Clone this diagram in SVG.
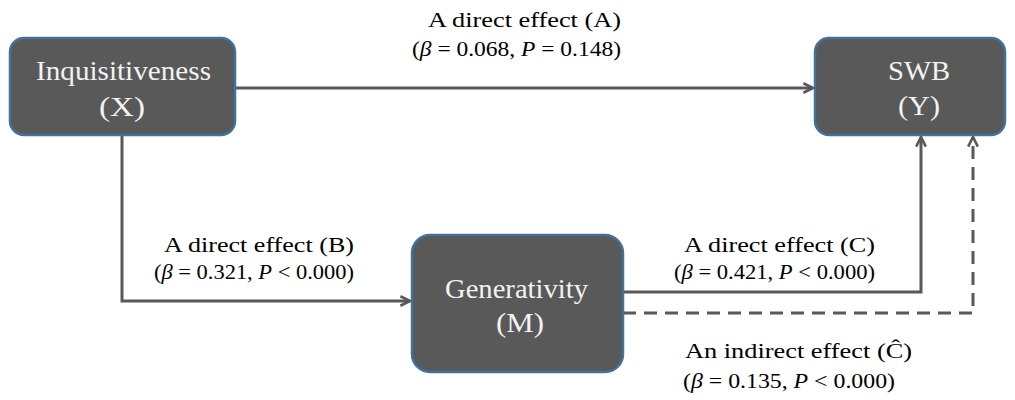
<svg xmlns="http://www.w3.org/2000/svg" width="1015" height="400" viewBox="0 0 1015 400">
<style>
.box{fill:#595959;stroke:#41719c;stroke-width:2.5}
text{font-family:'Liberation Serif','Times New Roman',Times,serif}
.nt{font-size:27px;fill:#f2f2f2}
.lb{font-size:21px;fill:#000}
.ln{fill:none;stroke:#595959;stroke-width:3}
.dash{stroke-dasharray:13 8}
</style>
<defs>
<marker id="arr" viewBox="0 0 10 10" refX="9" refY="5" markerWidth="4" markerHeight="4" orient="auto" markerUnits="strokeWidth">
<path d="M1,1 L9,5 L1,9" fill="none" stroke="#595959" stroke-width="2.2"/>
</marker>
</defs>
<g id="connectors">
<path class="ln" d="M235,88 H813" marker-end="url(#arr)"/>
<path class="ln" d="M122,135 V301 H410" marker-end="url(#arr)"/>
<path class="ln" d="M623,292 H921 V137" marker-end="url(#arr)"/>
<path class="ln dash" d="M623,313 H973 V137" marker-end="url(#arr)"/>
</g>
<g id="node-x">
<rect class="box" x="10" y="38" width="225" height="97" rx="14"/>
<text class="nt" x="36" y="80" textLength="175" lengthAdjust="spacingAndGlyphs">Inquisitiveness</text>
<text class="nt" x="99" y="116" textLength="46" lengthAdjust="spacingAndGlyphs">(X)</text>
</g>
<g id="node-y">
<rect class="box" x="815" y="38" width="190" height="97" rx="14"/>
<text class="nt" x="888" y="80" textLength="62" lengthAdjust="spacingAndGlyphs">SWB</text>
<text class="nt" x="898" y="115" textLength="42" lengthAdjust="spacingAndGlyphs">(Y)</text>
</g>
<g id="node-m">
<rect class="box" x="412" y="235" width="211" height="137" rx="18"/>
<text class="nt" x="445" y="298" textLength="143" lengthAdjust="spacingAndGlyphs">Generativity</text>
<text class="nt" x="496" y="332" textLength="48" lengthAdjust="spacingAndGlyphs">(M)</text>
</g>
<g id="labels">
<text class="lb" x="428" y="27" textLength="193" lengthAdjust="spacingAndGlyphs">A direct effect (A)</text>
<text class="lb" x="412" y="56" textLength="209" lengthAdjust="spacingAndGlyphs">(<tspan font-style="italic">β</tspan> = 0.068, <tspan font-style="italic">P</tspan> = 0.148)</text>
<text class="lb" x="164" y="252" textLength="190" lengthAdjust="spacingAndGlyphs">A direct effect (B)</text>
<text class="lb" x="154" y="279" textLength="200" lengthAdjust="spacingAndGlyphs">(<tspan font-style="italic">β</tspan> = 0.321, <tspan font-style="italic">P</tspan> &lt; 0.000)</text>
<text class="lb" x="684" y="252" textLength="191" lengthAdjust="spacingAndGlyphs">A direct effect (C)</text>
<text class="lb" x="674" y="279" textLength="201" lengthAdjust="spacingAndGlyphs">(<tspan font-style="italic">β</tspan> = 0.421, <tspan font-style="italic">P</tspan> &lt; 0.000)</text>
<text class="lb" x="685" y="358" textLength="227" lengthAdjust="spacingAndGlyphs">An indirect effect (Ĉ)</text>
<text class="lb" x="683" y="388" textLength="212" lengthAdjust="spacingAndGlyphs">(<tspan font-style="italic">β</tspan> = 0.135, <tspan font-style="italic">P</tspan> &lt; 0.000)</text>
</g>
</svg>
